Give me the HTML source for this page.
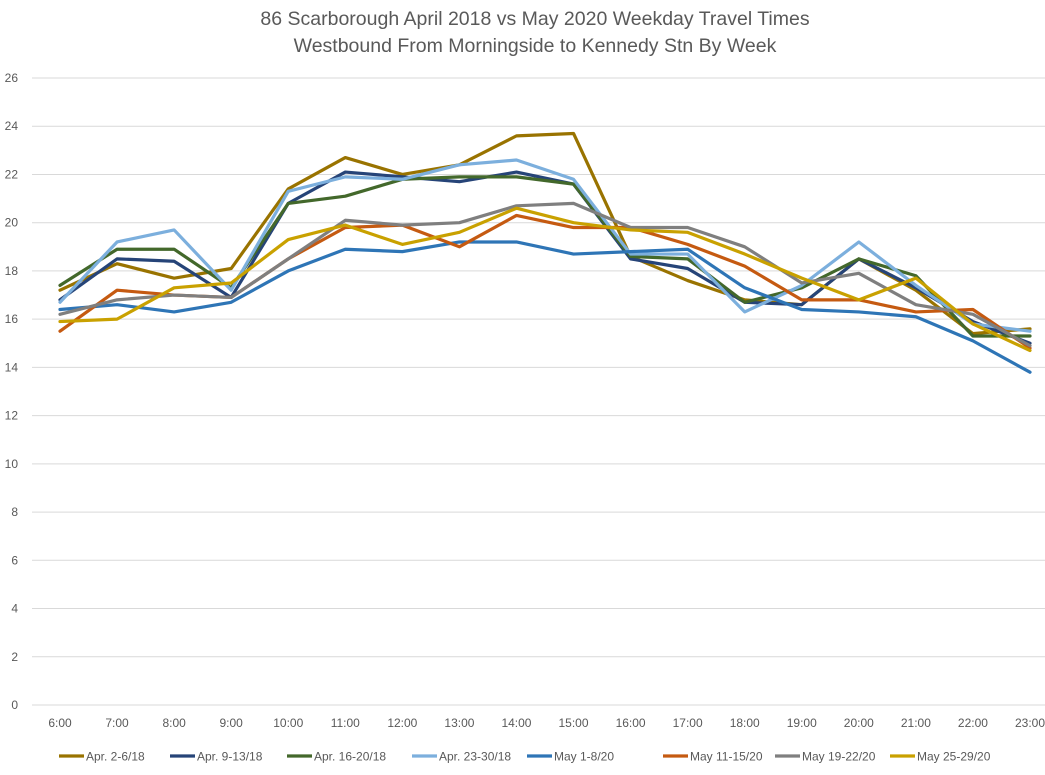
<!DOCTYPE html>
<html><head><meta charset="utf-8">
<style>
body{margin:0;background:#fff;width:1045px;height:770px;overflow:hidden;font-family:"Liberation Sans",sans-serif;}
svg text{font-family:"Liberation Sans",sans-serif;}
</style></head>
<body>
<svg id="chart" width="1045" height="770" xmlns="http://www.w3.org/2000/svg">
<text x="535" y="25" text-anchor="middle" font-size="19.5" fill="#595959">86 Scarborough April 2018 vs May 2020 Weekday Travel Times</text>
<text x="535" y="52" text-anchor="middle" font-size="19.5" fill="#595959">Westbound From Morningside to Kennedy Stn By Week</text>
<g id="grid"></g><g id="series"></g><g id="legend"></g>
</svg>
<script>
const categories=["6:00","7:00","8:00","9:00","10:00","11:00","12:00","13:00","14:00","15:00","16:00","17:00","18:00","19:00","20:00","21:00","22:00","23:00"];
const yTicks=[0,2,4,6,8,10,12,14,16,18,20,22,24,26];
const seriesNames=["Apr. 2-6/18","Apr. 9-13/18","Apr. 16-20/18","Apr. 23-30/18","May 1-8/20","May 11-15/20","May 19-22/20","May 25-29/20"];
const seriesColors=["#997300","#264478","#43682B","#7CAFDD","#2E75B6","#C55A11","#7F7F7F","#C9A100"];
const apr2=[17.2,18.3,17.7,18.1,21.4,22.7,22.0,22.4,23.6,23.7,18.6,17.6,16.8,16.6,18.5,17.2,15.4,15.6];
const apr9=[16.8,18.5,18.4,16.9,20.8,22.1,21.9,21.7,22.1,21.6,18.5,18.1,16.7,16.6,18.5,17.3,15.9,15.0];
const apr16=[17.4,18.9,18.9,17.3,20.8,21.1,21.8,21.9,21.9,21.6,18.6,18.5,16.7,17.3,18.5,17.8,15.3,15.3];
const apr23=[16.7,19.2,19.7,17.2,21.3,21.9,21.8,22.4,22.6,21.8,18.7,18.7,16.3,17.4,19.2,17.4,15.8,15.5];
const may1=[16.4,16.6,16.3,16.7,18.0,18.9,18.8,19.2,19.2,18.7,18.8,18.9,17.3,16.4,16.3,16.1,15.1,13.8];
const may11=[15.5,17.2,17.0,16.9,18.5,19.8,19.9,19.0,20.3,19.8,19.8,19.1,18.2,16.8,16.8,16.3,16.4,14.8];
const may19=[16.2,16.8,17.0,16.9,18.5,20.1,19.9,20.0,20.7,20.8,19.8,19.8,19.0,17.5,17.9,16.6,16.2,14.9];
const may25=[15.9,16.0,17.3,17.5,19.3,19.9,19.1,19.6,20.6,20.0,19.7,19.6,18.7,17.7,16.8,17.7,15.8,14.7];
const seriesData=[apr2,apr9,apr16,apr23,may1,may11,may19,may25];

const NS="http://www.w3.org/2000/svg";
const x0=60,x1=1030,yTop=78,yBot=705,yMax=26;
function xs(i){return x0+i*(x1-x0)/(categories.length-1);}
function ys(v){return yBot-v*(yBot-yTop)/yMax;}
function mk(tag,attrs,parent){const e=document.createElementNS(NS,tag);for(const k in attrs)e.setAttribute(k,attrs[k]);parent.appendChild(e);return e;}
const grid=document.getElementById('grid');
yTicks.forEach(t=>{
  const l=mk('line',{x1:32,x2:1045,y1:ys(t),y2:ys(t),stroke:'#d9d9d9','stroke-width':1},grid);
  
  
  const tx=mk('text',{x:18,y:ys(t)+4,'text-anchor':'end','font-size':12,fill:'#595959'},grid);
  tx.textContent=t;
  
  
});
categories.forEach((c,i)=>{
  const tx=mk('text',{x:xs(i),y:727,'text-anchor':'middle','font-size':12,fill:'#595959'},grid);
  tx.textContent=c;
  
  
});
const sg=document.getElementById('series');
seriesData.forEach((d,s)=>{
  const p=mk('polyline',{points:d.map((v,i)=>xs(i)+','+ys(v)).join(' '),fill:'none',stroke:seriesColors[s],'stroke-width':3.2,'stroke-linejoin':'round','stroke-linecap':'round'},sg);
  
  
});
const lg=document.getElementById('legend');
const legX=[59,170,287,412,527,663,775,890];
seriesNames.forEach((n,s)=>{
  const g=mk('g',{},lg);
  
  
  mk('line',{x1:legX[s],x2:legX[s]+25,y1:756,y2:756,stroke:seriesColors[s],'stroke-width':3.2},g);
  const t=mk('text',{x:legX[s]+27,y:760.5,'font-size':12,fill:'#595959'},g);
  t.textContent=n;
});
</script>
</body></html>
